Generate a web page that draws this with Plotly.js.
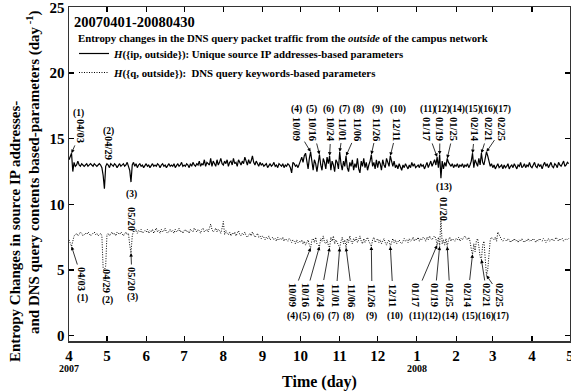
<!DOCTYPE html>
<html><head><meta charset="utf-8">
<script src="https://cdn.plot.ly/plotly-3.0.1.min.js"></script>
<style>html,body{margin:0;padding:0;background:#fff}#chart{width:571px;height:391px}</style>
</head><body><div id="chart"></div>
<script>
// ---------- data (daily, 2007-04-01 .. 2008-04-30) ----------
const startDate = '2007-04-01';
const ipValues = [
// Apr 2007
13.4,13.6,13.9,12.5,13.2,12.9,13.0,13.3,13.0,12.9,13.1,13.0,12.9,13.0,13.1,12.9,13.0,13.1,13.0,12.9,13.1,13.0,12.9,13.0,13.1,13.0,12.8,12.2,11.2,12.9,
// May
13.1,13.0,12.8,13.1,13.0,12.9,13.1,13.0,12.8,13.0,13.1,12.9,13.0,13.1,12.9,13.0,13.2,12.9,12.6,11.7,13.0,13.2,12.9,13.1,12.8,13.0,13.1,12.9,13.0,12.8,13.0,
// Jun
13.1,12.9,13.0,12.8,13.0,13.1,12.9,13.0,12.9,13.1,13.0,12.8,13.0,13.1,12.9,13.0,12.8,13.0,13.1,12.9,13.0,12.9,13.1,12.8,13.0,13.1,12.9,13.0,13.2,12.9,
// Jul
13.0,12.9,13.1,13.0,12.8,13.1,12.9,13.2,13.0,12.9,13.1,13.0,13.3,12.9,13.1,13.0,13.4,12.9,13.2,13.1,13.0,13.5,12.9,13.3,13.1,12.9,13.4,13.0,13.2,13.5,13.1,
// Aug
13.0,13.3,13.1,13.4,12.9,13.2,13.3,13.0,13.5,13.1,13.2,12.9,13.4,13.2,13.0,13.3,13.1,13.6,13.2,13.0,13.4,13.1,13.3,13.7,13.2,13.0,13.3,13.1,12.9,13.2,13.0,
// Sep
13.1,12.9,13.0,13.1,12.8,13.0,13.1,12.9,13.0,13.2,12.9,13.0,12.8,13.1,13.0,12.9,13.1,12.8,13.0,12.9,13.1,13.0,12.8,12.4,13.2,13.1,12.9,13.0,12.8,13.1,
// Oct
13.3,13.6,13.2,13.7,13.9,13.4,12.7,13.5,14.0,13.3,12.6,13.4,13.1,12.5,13.4,13.8,13.0,12.6,13.5,13.2,12.7,13.6,13.1,13.7,12.6,13.3,13.0,12.5,13.4,13.2,12.7,
// Nov
14.0,13.1,12.6,13.3,12.9,13.7,12.8,12.5,13.2,12.9,13.4,12.6,13.1,12.8,13.5,12.7,12.4,13.3,12.9,13.5,12.8,13.2,12.6,13.0,13.3,13.8,12.9,13.2,12.7,13.4,
// Dec
12.8,13.3,13.1,12.6,13.4,13.0,12.8,13.5,13.1,12.9,13.7,13.2,12.9,13.3,12.8,13.0,12.7,13.1,12.9,12.6,13.0,12.8,13.1,12.9,12.7,13.0,12.8,13.2,12.9,13.1,12.8,
// Jan 2008
12.9,13.0,12.8,13.1,12.9,13.0,12.7,13.0,13.2,12.8,13.0,13.3,12.9,13.2,13.4,13.0,13.6,12.8,13.8,12.0,13.3,12.7,13.2,12.9,13.5,13.2,13.0,12.9,13.1,12.8,13.0,
// Feb
12.9,13.1,12.8,13.0,12.9,13.1,12.8,13.0,12.9,13.1,12.8,13.0,13.3,13.9,12.8,13.4,13.1,12.9,13.5,13.0,13.9,13.2,13.0,13.6,14.0,13.7,13.2,12.9,13.1,
// Mar
12.8,13.0,12.7,12.9,13.1,12.8,12.9,13.0,12.7,13.0,12.8,12.9,13.1,12.7,12.9,13.0,12.8,13.1,12.9,12.7,13.0,12.9,13.2,12.8,12.9,13.1,12.8,13.0,12.9,13.2,12.9,
// Apr
12.8,13.0,13.2,12.9,12.8,13.1,12.9,13.0,12.7,13.0,13.2,12.9,13.1,12.8,13.0,13.2,12.9,12.8,13.1,13.0,12.8,13.2,13.0,12.9,13.1,13.3,12.9,13.0,13.2,13.1
];
const qValues = [
// Apr 2007
7.3,7.0,6.8,7.2,7.6,7.7,7.8,7.6,7.7,7.9,7.8,7.6,7.7,7.8,7.7,7.9,7.8,7.6,7.7,7.8,7.9,7.7,7.8,7.6,7.7,7.8,7.6,5.1,5.0,5.3,
// May
7.7,7.8,7.6,7.8,7.9,7.7,7.8,7.6,7.9,7.8,7.7,7.9,7.8,7.6,7.8,7.9,7.7,7.8,6.9,6.3,7.6,8.0,7.9,8.1,7.8,8.0,7.9,8.1,7.8,7.9,8.0,
// Jun
7.9,8.1,7.8,8.0,7.9,8.1,7.8,8.0,8.2,7.9,8.0,7.8,8.1,7.9,8.0,8.2,7.9,7.8,8.0,8.1,7.9,8.0,7.8,8.1,7.9,8.0,8.2,7.9,8.0,7.8,
// Jul
8.0,8.1,7.9,8.0,7.8,8.1,8.0,7.9,8.2,8.0,7.9,8.1,8.0,7.8,8.1,8.2,7.9,8.0,8.1,7.9,8.2,8.5,8.1,7.9,8.0,8.2,7.9,8.1,8.0,7.8,8.2,
// Aug
8.7,7.7,8.0,7.8,7.7,7.9,7.6,7.8,7.7,7.9,7.6,7.8,8.0,7.7,7.6,7.8,7.7,7.9,7.6,7.5,7.7,7.8,7.6,7.9,7.7,7.5,7.6,7.8,7.5,7.6,7.4,
// Sep
7.6,7.5,7.3,7.5,7.4,7.6,7.3,7.4,7.5,7.3,7.4,7.2,7.5,7.3,7.4,7.3,7.5,7.2,7.4,7.3,7.2,7.4,7.3,7.1,7.3,7.2,7.0,7.3,7.1,7.2,
// Oct
7.1,7.3,7.0,7.2,6.9,7.1,7.3,6.9,6.7,7.3,7.4,7.1,7.5,7.0,6.9,6.8,7.4,7.2,7.6,7.1,7.0,7.3,6.9,6.7,7.5,7.2,7.6,7.0,7.3,7.1,6.8,
// Nov
6.7,7.2,7.5,7.0,7.3,6.7,7.4,7.1,7.6,7.2,7.0,7.4,7.2,7.5,7.1,7.3,7.6,7.2,7.0,7.4,7.1,7.3,7.5,7.2,7.0,6.8,7.3,7.5,7.1,7.3,
// Dec
7.4,7.1,7.3,7.0,7.2,7.4,7.1,6.9,7.2,7.3,6.8,7.2,7.4,7.1,7.3,7.0,7.2,7.3,7.1,7.0,7.2,7.4,7.2,7.3,7.1,7.4,7.2,7.3,7.5,7.2,7.4,
// Jan 2008
7.3,7.5,7.2,7.4,7.3,7.5,7.4,7.2,7.5,7.3,7.6,7.4,7.3,7.5,7.6,7.4,6.9,7.5,6.8,9.0,7.0,7.3,6.9,7.4,6.8,7.3,7.5,7.2,7.4,7.3,7.2,
// Feb
7.4,7.3,7.5,7.2,7.4,7.3,7.5,7.6,7.4,7.3,7.5,7.2,6.6,6.2,7.0,6.4,7.2,7.4,6.8,6.0,5.8,6.9,7.2,5.6,4.6,5.0,6.5,7.3,7.5,
// Mar
7.4,7.3,7.5,7.2,7.9,7.7,7.4,7.3,7.2,7.4,7.3,7.2,7.4,7.3,7.1,7.3,7.2,7.4,7.2,7.3,7.1,7.3,7.2,7.4,7.2,7.1,7.3,7.2,7.4,7.2,7.3,
// Apr
7.2,7.4,7.3,7.1,7.3,7.2,7.4,7.3,7.2,7.4,7.3,7.1,7.3,7.4,7.2,7.3,7.4,7.2,7.3,7.5,7.3,7.2,7.4,7.3,7.4,7.2,7.3,7.4,7.3,7.4
];
const tickDates = ['2007-04-01','2007-05-01','2007-06-01','2007-07-01','2007-08-01','2007-09-01','2007-10-01','2007-11-01','2007-12-01','2008-01-01','2008-02-01','2008-03-01','2008-04-01','2008-05-01'];
const tickLabels = ['4','5','6','7','8','9','10','11','12','1','2','3','4','5'];
const yTicks = [0, 5, 10, 15, 20, 25];
const yearDates = ['2007-04-01','2008-01-01'];
const yearLabels = ['2007','2008'];
const eventDates = ['2007-04-03','2007-04-29','2007-05-20','2007-10-09','2007-10-16','2007-10-24','2007-11-01','2007-11-06','2007-11-26','2007-12-11','2008-01-17','2008-01-19','2008-01-20','2008-01-25','2008-02-14','2008-02-21','2008-02-25'];
const eventText = ['04/03','04/29','05/20','10/09','10/16','10/24','11/01','11/06','11/26','12/11','01/17','01/19','01/20','01/25','02/14','02/21','02/25'];
const eventNums = ['(1)','(2)','(3)','(4)','(5)','(6)','(7)','(8)','(9)','(10)','(11)','(12)','(13)','(14)','(15)','(16)','(17)'];
const ipName = '<i>H</i>({ip, outside}): Unique source IP addresses-based parameters';
const qName = '<i>H</i>({q, outside}):  DNS query keywords-based parameters';

// ---------- layout helpers (label placement, pixels) ----------
const W = 571, H = 391, M = {l: 69, r: 1, t: 7, b: 50};
const X0 = Date.UTC(2007, 3, 1), X1 = Date.UTC(2008, 4, 1, 1);
const YR = [-0.4, 25.03];
function px2date(px) { const f = (px - M.l) / (W - M.l - M.r); return new Date(X0 + f * (X1 - X0)).toISOString().slice(0, 19).replace('T', ' '); }
function py2val(py) { const f = (H - M.b - py) / (H - M.t - M.b); return YR[0] + f * (YR[1] - YR[0]); }
function pxX(px) { return (px - M.l) / (W - M.l - M.r); }
function pxY(py) { return (H - M.b - py) / (H - M.t - M.b); }
function dayIndex(d) { return Math.round((Date.parse(d + 'T00:00:00Z') - X0) / 864e5); }

const x = ipValues.map((_, i) => new Date(X0 + i * 864e5).toISOString().slice(0, 10));

// label placement per event: [textX, textY, numX, numY, arrow]
const upperPos = {
  0: [81, 131, 78, 113, true],
  1: [109, 148, 108, 131, false],
  2: [132, 219, 131, 194, false],
  3: [297, 129, 296, 109, true],
  4: [313, 129, 311, 109, true],
  5: [331, 129, 328, 109, true],
  6: [343, 129, 344, 109, true],
  7: [358, 129, 358, 109, true],
  8: [377, 129, 377, 109, true],
  9: [397, 129, 398, 109, true],
  10: [427, 129, 427, 109, true],
  11: [440, 129, 442, 109, true],
  12: [444, 209, 444, 187, false],
  13: [454, 129, 457, 109, true],
  14: [475, 129, 473, 109, true],
  15: [489, 129, 488, 109, true],
  16: [502, 129, 503, 109, true]
};
const lowerPos = {
  0: [82, 279, 82, 298, true],
  1: [107, 281, 107, 300, false],
  2: [132, 279, 132, 297, true],
  3: [293, 295, 292, 316, true],
  4: [306, 295, 304, 316, true],
  5: [321, 295, 318, 316, true],
  6: [336, 295, 333, 316, true],
  7: [352, 295, 348, 316, true],
  8: [372, 295, 371, 316, true],
  9: [393, 295, 395, 316, true],
  10: [416, 295, 416, 316, true],
  11: [435, 295, 433, 316, true],
  13: [450, 295, 450, 316, true],
  14: [468, 295, 470, 316, true],
  15: [487, 295, 486, 316, true],
  16: [500, 295, 501, 316, true]
};

const FONT = 'Liberation Serif, Times New Roman, serif';
const labFont = {family: FONT, size: 10.5, color: '#000', weight: 'bold'};
const numFont = {family: FONT, size: 9.5, color: '#000', weight: 'bold'};
const annotations = [];

function addLabels(pos, vals) {
  Object.keys(pos).forEach(k => {
    const i = +k; const p = pos[k];
    const d = eventDates[i];
    if (p[4]) {
      annotations.push({x: d, y: vals[dayIndex(d)], xref: 'x', yref: 'y', axref: 'x', ayref: 'y',
        ax: px2date(p[0]), ay: py2val(p[1]), text: eventText[i], textangle: 90, showarrow: true,
        arrowhead: 2, arrowsize: 0.9, arrowwidth: 0.8, arrowcolor: '#000', standoff: 0, startstandoff: 1, font: labFont});
    } else {
      annotations.push({x: px2date(p[0]), y: py2val(p[1]), xref: 'x', yref: 'y', text: eventText[i], textangle: 90, showarrow: false, font: labFont});
    }
    annotations.push({x: px2date(p[2]), y: py2val(p[3]), xref: 'x', yref: 'y', text: eventNums[i], showarrow: false, font: numFont});
  });
}
addLabels(upperPos, ipValues);
addLabels(lowerPos, qValues);

// header texts
annotations.push({xref: 'paper', yref: 'paper', x: pxX(72), y: pxY(22), xanchor: 'left', yanchor: 'middle', showarrow: false,
  text: '20070401-20080430', font: {family: FONT, size: 14.5, color: '#000', weight: 'bold'}});
annotations.push({xref: 'paper', yref: 'paper', x: pxX(76), y: pxY(38), xanchor: 'left', yanchor: 'middle', showarrow: false,
  text: 'Entropy changes in the DNS query packet traffic from the <i>outside</i> of the campus network', font: {family: FONT, size: 10.8, color: '#000', weight: 'bold'}});
// year labels
yearDates.forEach((d, i) => annotations.push({x: d, xref: 'x', yref: 'paper', y: pxY(368), yanchor: 'middle', showarrow: false,
  text: yearLabels[i], font: {family: FONT, size: 10, color: '#000', weight: 'bold'}}));
// y-axis title (two lines)
annotations.push({xref: 'paper', yref: 'paper', x: pxX(15), y: pxY(232), xanchor: 'center', yanchor: 'middle', textangle: -90, showarrow: false,
  text: 'Entropy Changes in source IP addresses-', font: {family: FONT, size: 15, color: '#000', weight: 'bold'}});
annotations.push({xref: 'paper', yref: 'paper', x: pxX(33), y: pxY(173), xanchor: 'center', yanchor: 'middle', textangle: -90, showarrow: false,
  text: 'and DNS query contents based-parameters (day<sup> -1</sup>)', font: {family: FONT, size: 15, color: '#000', weight: 'bold'}});

const traces = [
  {x: x, y: ipValues, type: 'scatter', mode: 'lines', name: ipName, line: {color: '#000', width: 1.2}},
  {x: x, y: qValues, type: 'scatter', mode: 'lines', name: qName, line: {color: '#000', width: 1, dash: '1px,1.5px'}}
];

const axisCommon = {showgrid: false, zeroline: false, showline: true, linecolor: '#333', linewidth: 1.5, mirror: 'ticks',
  ticks: 'inside', ticklen: 5, tickwidth: 1.2, tickcolor: '#000', ticklabeloverflow: 'allow',
  tickfont: {family: FONT, size: 15, color: '#000', weight: 'bold'}};

const layout = {
  width: W, height: H, margin: M, paper_bgcolor: '#fff', plot_bgcolor: '#fff', showlegend: true,
  xaxis: Object.assign({}, axisCommon, {type: 'date', range: [startDate, new Date(X1).toISOString().slice(0, 19).replace('T', ' ')], tickmode: 'array', tickvals: tickDates, ticktext: tickLabels,
    tickfont: {family: FONT, size: 15, color: '#000', weight: 'bold'},
    title: {text: 'Time (day)', font: {family: FONT, size: 16, color: '#000', weight: 'bold'}, standoff: 16}}),
  yaxis: Object.assign({}, axisCommon, {range: YR, tickmode: 'array', tickvals: yTicks, ticktext: yTicks.map(String)}),
  legend: {x: pxX(74), y: pxY(39), xanchor: 'left', yanchor: 'top', bgcolor: 'rgba(0,0,0,0)', borderwidth: 0,
    font: {family: FONT, size: 10.8, color: '#000', weight: 'bold'}, tracegroupgap: 0},
  annotations: annotations
};

Plotly.newPlot('chart', traces, layout, {staticPlot: true, displayModeBar: false});
</script></body></html>
